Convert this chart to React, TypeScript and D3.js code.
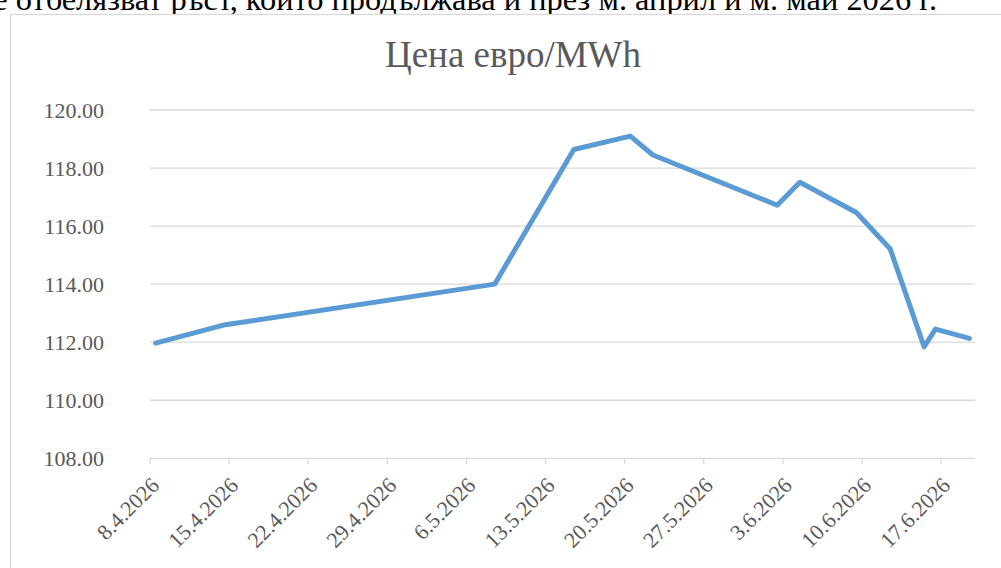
import React from "react";
import { scaleUtc, scaleLinear, line, utcParse, utcHour, curveLinear } from "d3";

// data
const dates = [
  "8.4.2026", "14.4.2026", "8.5.2026", "15.5.2026", "20.5.2026", "22.5.2026",
  "2.6.2026", "4.6.2026", "9.6.2026", "12.6.2026", "15.6.2026", "16.6.2026", "19.6.2026",
];
const prices = [
  111.97, 112.59, 114.0, 118.64, 119.1, 118.45,
  116.72, 117.51, 116.47, 115.21, 111.84, 112.45, 112.13,
];
const xTickLabels = [
  "8.4.2026", "15.4.2026", "22.4.2026", "29.4.2026", "6.5.2026", "13.5.2026",
  "20.5.2026", "27.5.2026", "3.6.2026", "10.6.2026", "17.6.2026",
];
const yTicks = [108, 110, 112, 114, 116, 118, 120];
const axisStart = "8.4.2026";
const axisEnd = "20.6.2026";

const title = "Цена евро/MWh";
const topText = "е отбелязват ръст, който продължава и през м. април и м. май 2026 г.";

const parse = utcParse("%d.%m.%Y");
const serif = "Liberation Serif, Times New Roman, serif";

export default function App() {
  const width = 1001;
  const height = 568;
  const margin = { left: 150, right: 26, top: 110, bottom: 110 };

  const x = scaleUtc()
    .domain([parse(axisStart)!, parse(axisEnd)!])
    .range([margin.left, width - margin.right]);

  const y = scaleLinear()
    .domain([108, 120])
    .range([height - margin.bottom + 0.3, margin.top]);

  const points = dates.map((d, i) => ({ date: parse(d)!, value: prices[i] }));

  // points sit in the middle of their day (axis "between tick marks")
  const path = line<{ date: Date; value: number }>()
    .x(d => x(utcHour.offset(d.date, 12)))
    .y(d => y(d.value))
    .curve(curveLinear)(points);

  const axisY = y(108);

  return (
    <svg
      width={width}
      height={height}
      style={{ position: "absolute", left: 0, top: 0, background: "#fff" }}
    >
      {/* cut off paragraph above the chart */}
      <text x={937} y={9.5} textAnchor="end" fontFamily={serif} fontSize={32.4} fill="#000">
        {topText}
      </text>

      {/* chart frame */}
      <rect x={10.5} y={14.5} width={1000} height={600} fill="#fff" stroke="#d9d9d9" strokeWidth={1.3} />

      <text x={513} y={67} textAnchor="middle" fontFamily={serif} fontSize={37} fill="#595959">
        {title}
      </text>

      {/* gridlines and y labels */}
      {yTicks.map(t => (
        <g key={t}>
          {t !== 108 && (
            <line x1={margin.left} x2={width - margin.right} y1={y(t)} y2={y(t)} stroke="#d9d9d9" strokeWidth={1.3} />
          )}
          <text x={104} y={y(t)} dy={8} textAnchor="end" fontFamily={serif} fontSize={22} fill="#595959">
            {t.toFixed(2)}
          </text>
        </g>
      ))}

      {/* x axis */}
      <line x1={margin.left} x2={width - margin.right} y1={axisY} y2={axisY} stroke="#d9d9d9" strokeWidth={1.3} />
      {xTickLabels.map(l => {
        const tx = x(parse(l)!);
        return (
          <g key={l}>
            <line x1={tx} x2={tx} y1={axisY} y2={axisY + 6} stroke="#d9d9d9" strokeWidth={1.3} />
            <text
              transform={`translate(${tx + 5}, ${axisY + 23}) rotate(-45)`}
              textAnchor="end"
              dy="0.35em"
              fontFamily={serif}
              fontSize={22}
              fill="#595959"
            >
              {l}
            </text>
          </g>
        );
      })}

      {/* price line */}
      <path d={path ?? ""} fill="none" stroke="#5b9bd5" strokeWidth={5} strokeLinejoin="round" strokeLinecap="round" />
    </svg>
  );
}
